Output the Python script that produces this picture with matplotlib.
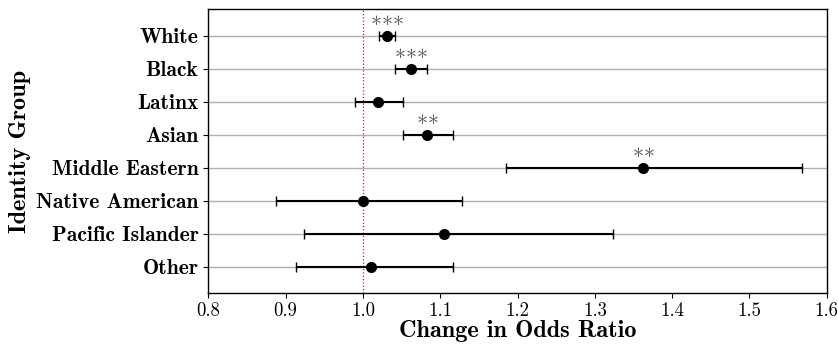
import matplotlib
matplotlib.use("Agg")
import matplotlib.pyplot as plt

categories = ["White", "Black", "Latinx", "Asian", "Middle Eastern",
              "Native American", "Pacific Islander", "Other"]
odds = [1.031, 1.062, 1.020, 1.083, 1.363, 1.000, 1.105, 1.010]
lower = [1.021, 1.041, 0.990, 1.052, 1.185, 0.888, 0.924, 0.914]
upper = [1.041, 1.083, 1.052, 1.117, 1.568, 1.128, 1.323, 1.117]
stars = ["***", "***", "", "**", "**", "", "", ""]
xticks = [0.8, 0.9, 1.0, 1.1, 1.2, 1.3, 1.4, 1.5, 1.6]

plt.rcParams["mathtext.fontset"] = "cm"
plt.rcParams["axes.formatter.use_mathtext"] = True

fig = plt.figure(figsize=(8.38, 3.45), dpi=100)
ax = fig.add_axes([0.2486, 0.150, 0.7379, 0.823])

ypos = list(range(len(categories)))
xerr = [[o - l for o, l in zip(odds, lower)], [u - o for o, u in zip(odds, upper)]]
ax.grid(axis="y", color="#b0b0b0", lw=1.0, zorder=0)
ax.set_axisbelow(True)
ax.axvline(1.0, color="red", ls=":", lw=0.9, zorder=1)
ax.errorbar(odds, ypos, xerr=xerr, fmt="o", color="black", ms=7,
            elinewidth=1.5, capsize=3.5, capthick=1.0, zorder=3)
for o, y, s in zip(odds, ypos, stars):
    if s:
        ax.text(o, y - 0.2, "$" + "".join("{*}" for _ in s) + "$",
                ha="center", va="bottom", fontsize=16, color="#555555")

ax.set_ylim(7.8, -0.8)
ax.set_xlim(0.8, 1.6)
ax.set_xticks(xticks)
ax.set_xticklabels([f"{t:.1f}" for t in xticks], fontfamily="cmr10", fontsize=13.5)
ax.tick_params(axis="x", pad=3)
ax.set_yticks(ypos)
ax.set_yticklabels(categories, fontfamily="cmb10", fontsize=15.5)
ax.set_xlabel("Change in Odds Ratio", fontfamily="cmb10", fontsize=17.5, labelpad=0)
ax.set_ylabel("Identity Group", fontfamily="cmb10", fontsize=17.5)
for sp in ax.spines.values():
    sp.set_color("black")
    sp.set_linewidth(1.0)

fig.savefig("out.png", dpi=100)
